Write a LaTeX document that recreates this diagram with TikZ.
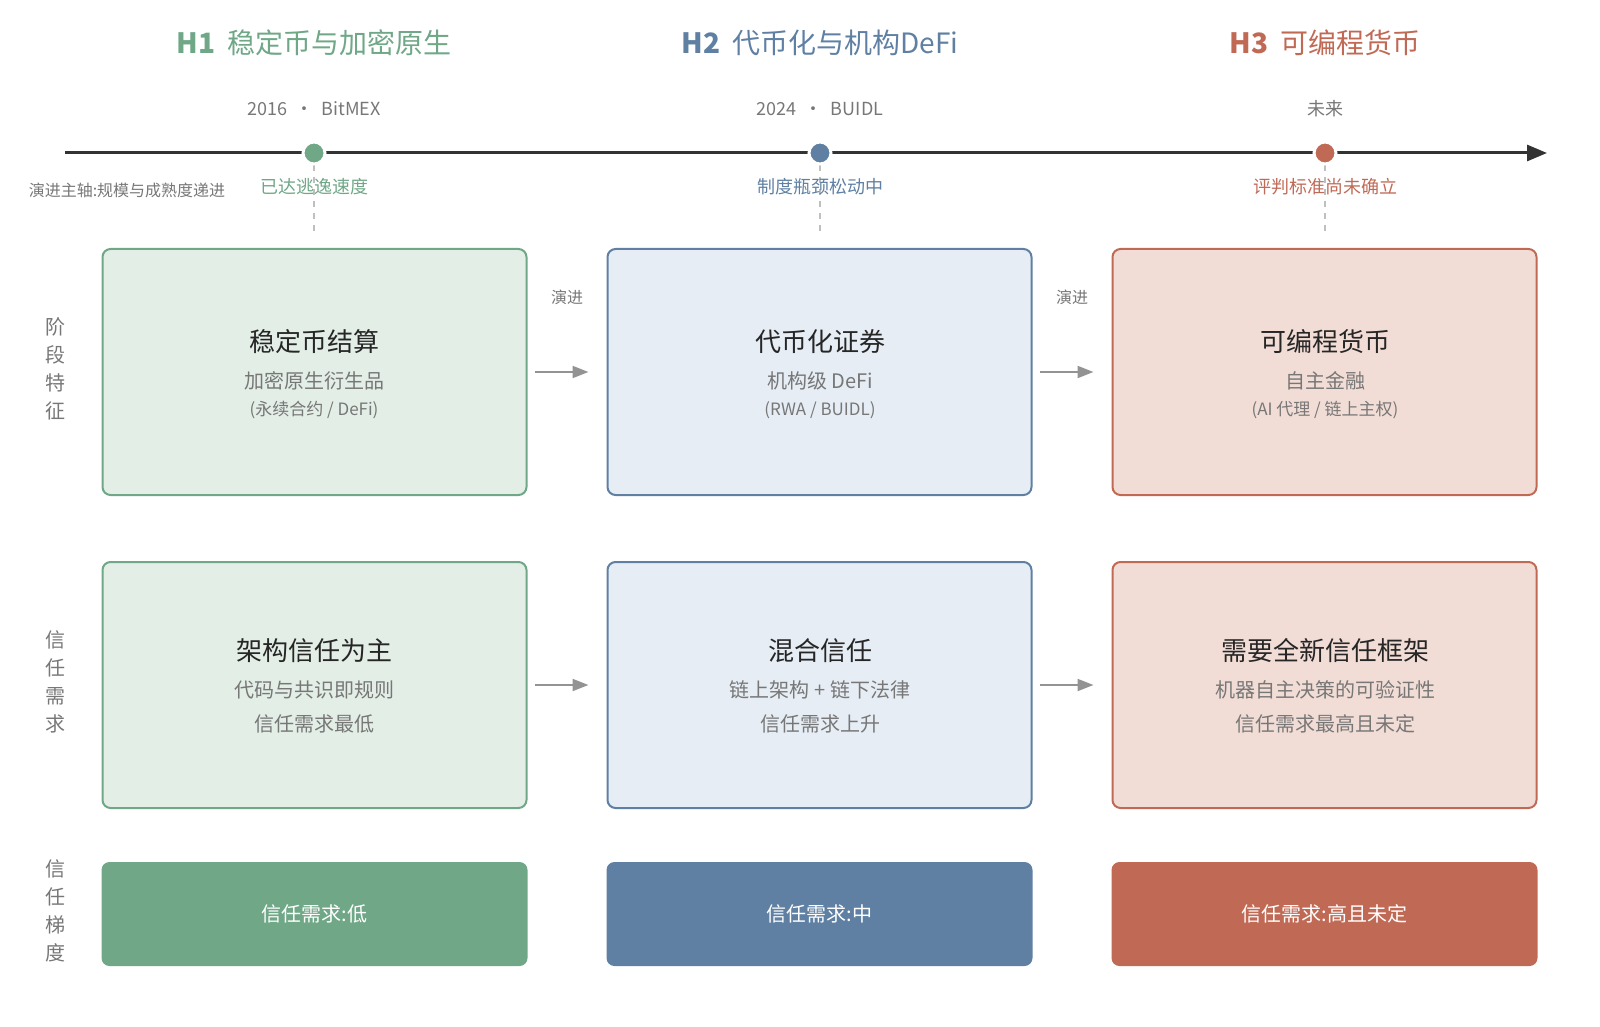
\documentclass[tikz,border=0pt]{standalone}
\usepackage{fontspec}
\setmainfont{Noto Sans CJK SC}
\usetikzlibrary{arrows.meta}
\definecolor{gA}{HTML}{6FA787}\definecolor{gF}{HTML}{E2EEE6}
\definecolor{bA}{HTML}{5F80A3}\definecolor{bF}{HTML}{E6EDF5}
\definecolor{rA}{HTML}{C06A56}\definecolor{rF}{HTML}{F2DDD6}
\definecolor{tx}{HTML}{777777}
\begin{document}
\begin{tikzpicture}[x=0.5pt,y=-0.5pt,
 box/.style={draw=#1,line width=1pt,rounded corners=4pt,minimum width=212pt,minimum height=123pt},
 fbox/.style={fill=#1,rounded corners=4pt,minimum width=213pt,minimum height=52pt,text=white,font=\fontsize{10}{12}\selectfont},
 ttl/.style={font=\fontsize{13}{15}\selectfont,text=black!85},
 sub/.style={font=\fontsize{10}{12}\selectfont,text=tx},
 sm/.style={font=\fontsize{8.5}{10}\selectfont,text=tx},
 arr/.style={-{Triangle[length=8pt,width=6pt]},line width=1pt,draw=gray!85},
 side/.style={font=\fontsize{10}{12}\selectfont,text=tx,align=center}]
\useasboundingbox (0,0) rectangle (1600,1027);
% headers
\node[text=gA,font=\fontsize{14}{16}\selectfont] (h1) at (314,43) {\textbf{H1}\ \ 稳定币与加密原生};
\node[text=bA,font=\fontsize{14}{16}\selectfont] (h2) at (820,43) {\textbf{H2}\ \ 代币化与机构DeFi};
\node[text=rA,font=\fontsize{14}{16}\selectfont] (h3) at (1325,43) {\textbf{H3}\ \ 可编程货币};
\node[sub,font=\fontsize{9}{11}\selectfont] (d1) at (314,109) {2016\ \ ·\ \ BitMEX};
\node[sub,font=\fontsize{9}{11}\selectfont] (d2) at (820,109) {2024\ \ ·\ \ BUIDL};
\node[sub,font=\fontsize{9}{11}\selectfont] (d3) at (1325,109) {未来};
% timeline
\coordinate (ts) at (65,153); \coordinate (te) at (1547,153);
\draw[line width=1.5pt,draw=black!80,-{Triangle[length=10pt,width=8pt]}] (ts) -- (te);
\foreach \x/\c/\n in {314/gA/p1,820/bA/p2,1325/rA/p3}{
 \coordinate (\n b) at (\x,232);
 \draw[dashed,draw=gray!50,line width=0.8pt] (\x,153) -- (\n b);
 \node[circle,fill=\c,draw=white,line width=1.5pt,minimum size=11pt,inner sep=0] (\n) at (\x,153) {};
}
\node[text=gA,font=\fontsize{9}{11}\selectfont] (l1) at (314,187) {已达逃逸速度};
\node[text=bA,font=\fontsize{9}{11}\selectfont] (l2) at (820,187) {制度瓶颈松动中};
\node[text=rA,font=\fontsize{9}{11}\selectfont] (l3) at (1325,187) {评判标准尚未确立};
\node[sm,font=\fontsize{8}{10}\selectfont] (ax) at (127,190) {演进主轴:规模与成熟度递进};
% side labels
\node[side] (s1) at (56,369) {阶\\[2pt]段\\[2pt]特\\[2pt]征};
\node[side] (s2) at (56,682) {信\\[2pt]任\\[2pt]需\\[2pt]求};
\node[side] (s3) at (56,911) {信\\[2pt]任\\[2pt]梯\\[2pt]度};
% row1
\node[box=gA,fill=gF] (a1) at (314.5,372) {};
\node[box=bA,fill=bF] (a2) at (819.5,372) {};
\node[box=rA,fill=rF] (a3) at (1324.5,372) {};
\node[ttl] at (314,342) {稳定币结算};
\node[sub] at (314,381) {加密原生衍生品};
\node[sm] at (314,410) {(永续合约 / DeFi)};
\node[ttl] at (820,342) {代币化证券};
\node[sub] at (820,381) {机构级 DeFi};
\node[sm] at (820,410) {(RWA / BUIDL)};
\node[ttl] at (1325,342) {可编程货币};
\node[sub] at (1325,381) {自主金融};
\node[sm] at (1325,410) {(AI 代理 / 链上主权)};
\draw[arr] (a1.east)++(7,0) -- ([xshift=-9pt]a2.west);
\draw[arr] (a2.east)++(7,0) -- ([xshift=-9pt]a3.west);
\node[sm,font=\fontsize{8}{10}\selectfont] at (567,297) {演进};
\node[sm,font=\fontsize{8}{10}\selectfont] at (1072,297) {演进};
% row2
\node[box=gA,fill=gF] (b1) at (314.5,685) {};
\node[box=bA,fill=bF] (b2) at (819.5,685) {};
\node[box=rA,fill=rF] (b3) at (1324.5,685) {};
\node[ttl] at (314,651) {架构信任为主};
\node[sub] at (314,690) {代码与共识即规则};
\node[sub] at (314,724) {信任需求最低};
\node[ttl] at (820,651) {混合信任};
\node[sub] at (820,690) {链上架构 + 链下法律};
\node[sub] at (820,724) {信任需求上升};
\node[ttl] at (1325,651) {需要全新信任框架};
\node[sub] at (1325,690) {机器自主决策的可验证性};
\node[sub] at (1325,724) {信任需求最高且未定};
\draw[arr] (b1.east)++(7,0) -- ([xshift=-9pt]b2.west);
\draw[arr] (b2.east)++(7,0) -- ([xshift=-9pt]b3.west);
% row3
\node[fbox=gA] (c1) at (314.5,914) {信任需求:低};
\node[fbox=bA] (c2) at (819.5,914) {信任需求:中};
\node[fbox=rA] (c3) at (1324.5,914) {信任需求:高且未定};
\end{tikzpicture}
\end{document}
